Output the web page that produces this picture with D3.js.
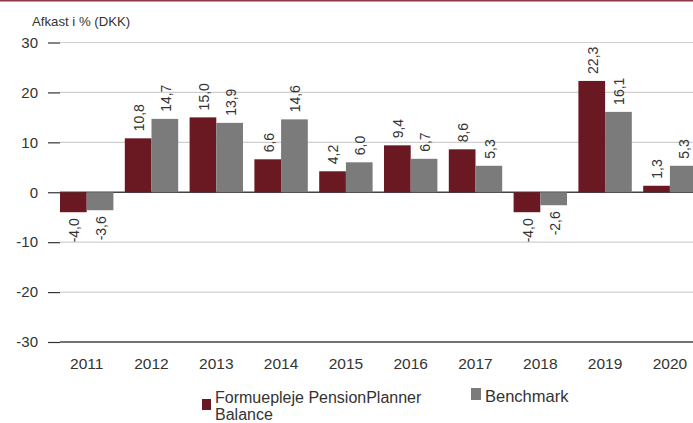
<!DOCTYPE html>
<html>
<head>
<meta charset="utf-8">
<script src="https://cdn.jsdelivr.net/npm/d3@7"></script>
<style>
  html, body { margin: 0; padding: 0; background: #fff; }
  svg { display: block; font-family: "Liberation Sans", Arial, sans-serif; }
</style>
</head>
<body>
<div id="chart"></div>
<script>
// ==== Data ====
const years = ["2011", "2012", "2013", "2014", "2015", "2016", "2017", "2018", "2019", "2020"];
const fundValues = [-4.0, 10.8, 15.0, 6.6, 4.2, 9.4, 8.6, -4.0, 22.3, 1.3];
const benchValues = [-3.6, 14.7, 13.9, 14.6, 6.0, 6.7, 5.3, -2.6, 16.1, 5.3];
const seriesNames = ["Formuepleje PensionPlanner Balance", "Benchmark"];
const yTicks = [-30, -20, -10, 0, 10, 20, 30];
const titleText = "Afkast i % (DKK)";

(function () {
  const W = 693, H = 423;
  const colors = ["#6a1822", "#7b7b7b"];
  // komma som decimaltegn, almindelig bindestreg som minus
  const fmt = v => d3.format(".1f")(v).replace(".", ",").replace("\u2212", "-");

  const svg = d3.select("#chart").append("svg")
    .attr("width", W)
    .attr("height", H);

  // top border line
  svg.append("rect")
    .attr("x", 0).attr("y", 0)
    .attr("width", W).attr("height", 1.5)
    .attr("fill", "#8c3a45");

  svg.append("text")
    .attr("x", 32).attr("y", 26)
    .attr("font-size", 13.2)
    .attr("fill", "#333")
    .text(titleText);

  // ==== Scales ====
  const y = d3.scaleLinear().domain([-30, 30]).range([342, 42.5]);

  const x0 = d3.scaleBand()
    .domain(years)
    .range([54.3, 702.3])
    .paddingInner(0.176)
    .paddingOuter(0.088);

  const x1 = d3.scaleBand()
    .domain([0, 1])
    .range([0, x0.bandwidth()]);

  const rows = years.map((yr, i) => ({ year: yr, vals: [fundValues[i], benchValues[i]] }));

  // ==== Grid + y axis ====
  const yAxis = svg.append("g")
    .attr("transform", "translate(60,0)")
    .call(d3.axisLeft(y).tickValues(yTicks).tickSize(12).tickPadding(10).tickFormat(d => String(d)));
  yAxis.select(".domain").remove();
  yAxis.selectAll(".tick line").attr("stroke", "#333").attr("stroke-width", 1.2);
  yAxis.selectAll(".tick text")
    .attr("font-size", 15)
    .attr("fill", "#333")
    .attr("font-family", null);

  svg.append("g").selectAll("line")
    .data(yTicks)
    .enter().append("line")
      .attr("x1", 60).attr("x2", W)
      .attr("y1", d => y(d)).attr("y2", d => y(d))
      .attr("stroke", d => (d === 0 || d === -30) ? "#444" : "#cfcfcf")
      .attr("stroke-width", d => (d === 0 || d === -30) ? 1.3 : 1.2);

  // ==== Bars ====
  const groups = svg.append("g").selectAll("g")
    .data(rows)
    .enter().append("g")
      .attr("transform", d => `translate(${x0(d.year)},0)`);

  groups.selectAll("rect")
    .data(d => d.vals.map((v, k) => ({ v, k })))
    .enter().append("rect")
      .attr("x", d => x1(d.k))
      .attr("y", d => y(Math.max(0, d.v)))
      .attr("width", x1.bandwidth())
      .attr("height", d => Math.abs(y(d.v) - y(0)))
      .attr("fill", d => colors[d.k]);

  // ==== Value labels (rotated) ====
  groups.selectAll("text")
    .data(d => d.vals.map((v, k) => ({ v, k })))
    .enter().append("text")
      .attr("transform", d => {
        const cx = x1(d.k) + x1.bandwidth() / 2 + 1;
        const cy = d.v >= 0 ? y(d.v) - 7 : y(d.v) + 6;
        return `translate(${cx},${cy}) rotate(-90)`;
      })
      .attr("dy", "0.35em")
      .attr("text-anchor", d => d.v >= 0 ? "start" : "end")
      .attr("font-size", 14)
      .attr("fill", "#333")
      .text(d => fmt(d.v));

  // ==== X labels ====
  svg.append("g").selectAll("text")
    .data(years)
    .enter().append("text")
      .attr("x", d => x0(d) + x0.bandwidth() / 2)
      .attr("y", 369)
      .attr("text-anchor", "middle")
      .attr("font-size", 15.5)
      .attr("fill", "#333")
      .text(d => d);

  // ==== Legend ====
  const leg = svg.append("g");
  leg.append("rect").attr("x", 202).attr("y", 399).attr("width", 9).attr("height", 11).attr("fill", colors[0]);
  const t0 = leg.append("text").attr("x", 215).attr("y", 403).attr("font-size", 16).attr("fill", "#333");
  const words = seriesNames[0].split(" ");
  t0.append("tspan").attr("x", 215).text(words.slice(0, 2).join(" "));
  t0.append("tspan").attr("x", 215).attr("dy", 16.5).text(words.slice(2).join(" "));

  leg.append("rect").attr("x", 471).attr("y", 388).attr("width", 10).attr("height", 12).attr("fill", colors[1]);
  leg.append("text").attr("x", 485).attr("y", 402).attr("font-size", 16.5).attr("fill", "#333").text(seriesNames[1]);
})();
</script>
</body>
</html>
